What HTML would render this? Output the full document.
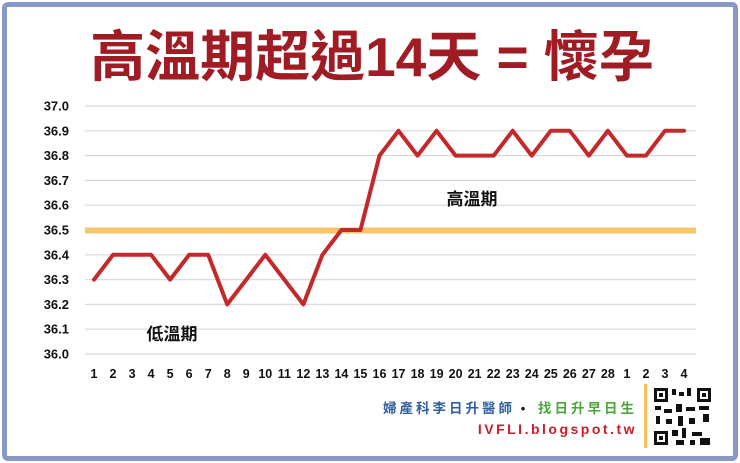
<!DOCTYPE html>
<html><head><meta charset="utf-8"><style>
body{margin:0;width:740px;height:463px;background:#fff;overflow:hidden}
.frame{position:absolute;left:2px;top:2px;width:726px;height:449px;border:5px solid #8a98c8;border-radius:6px;background:#fff}
</style></head><body>
<div class="frame"></div>
<svg width="740" height="463" style="position:absolute;left:0;top:0" font-family="Liberation Sans, Noto Sans CJK TC, sans-serif">
<text x="372" y="76" text-anchor="middle" font-size="55" font-weight="bold" fill="#a01c24" font-family="Liberation Sans, Noto Sans CJK TC, sans-serif">高溫期超過14天 = 懷孕</text>
<g id="grid" stroke="#d9d9d9" stroke-width="1.2"></g>
<g id="ylab" font-size="13" font-weight="bold" fill="#111" text-anchor="end"></g>
<g id="xlab" font-size="12.5" font-weight="bold" fill="#111" text-anchor="middle"></g>
<line x1="85" x2="696" y1="230.5" y2="230.5" stroke="#f7c66a" stroke-width="6"/>
<polyline id="ln" fill="none" stroke="#c3282b" stroke-width="4" stroke-linejoin="round" stroke-linecap="round"/>
<text x="472" y="205" text-anchor="middle" font-size="17" font-weight="bold" fill="#111">高溫期</text>
<text x="172" y="340" text-anchor="middle" font-size="17" font-weight="bold" fill="#111">低溫期</text>
<text x="515" y="413" text-anchor="end" font-size="13.5" font-weight="bold" fill="#2f5fa0" letter-spacing="3">婦產科李日升醫師</text>
<text x="523" y="413" text-anchor="middle" font-size="13" font-weight="bold" fill="#222">•</text>
<text x="637" y="413" text-anchor="end" font-size="13.5" font-weight="bold" fill="#4aa63a" letter-spacing="3">找日升早日生</text>
<text x="637" y="434" text-anchor="end" font-size="14" font-weight="bold" fill="#c81e28" letter-spacing="2.5">IVFLI.blogspot.tw</text>
<rect x="644" y="384" width="3" height="64" fill="#f5c060"/>
<g fill="#111">
<rect x="653" y="387" width="60" height="60" fill="#fff"/>
<rect x="654" y="388" width="14" height="14"/><rect x="657" y="391" width="8" height="8" fill="#fff"/><rect x="659" y="393" width="4" height="4"/>
<rect x="697" y="388" width="14" height="14"/><rect x="700" y="391" width="8" height="8" fill="#fff"/><rect x="702" y="393" width="4" height="4"/>
<rect x="654" y="431" width="14" height="14"/><rect x="657" y="434" width="8" height="8" fill="#fff"/><rect x="659" y="436" width="4" height="4"/>
<rect x="672" y="389" width="4" height="6"/><rect x="679" y="392" width="5" height="4"/><rect x="687" y="388" width="4" height="8"/>
<rect x="655" y="406" width="6" height="4"/><rect x="664" y="409" width="8" height="4"/><rect x="676" y="404" width="6" height="8"/><rect x="686" y="407" width="9" height="4"/><rect x="699" y="406" width="10" height="4"/>
<rect x="656" y="416" width="4" height="8"/><rect x="666" y="419" width="6" height="5"/><rect x="678" y="416" width="5" height="10"/><rect x="689" y="418" width="6" height="6"/><rect x="703" y="414" width="6" height="8"/>
<rect x="672" y="430" width="6" height="6"/><rect x="682" y="428" width="4" height="10"/><rect x="692" y="432" width="10" height="4"/><rect x="700" y="438" width="10" height="7"/><rect x="676" y="440" width="8" height="5"/><rect x="690" y="440" width="5" height="5"/>
</g>
</svg>
<script>
const d=[36.3,36.4,36.4,36.4,36.3,36.4,36.4,36.2,36.3,36.4,36.3,36.2,36.4,36.5,36.5,36.8,36.9,36.8,36.9,36.8,36.8,36.8,36.9,36.8,36.9,36.9,36.8,36.9,36.8,36.8,36.9,36.9];
const lab=[...Array(28)].map((_,i)=>i+1).concat([1,2,3,4]);
const X=i=>94+i*590/31, Y=v=>354-(v-36)*248;
const ns="http://www.w3.org/2000/svg";
const g=document.getElementById('grid'),yl=document.getElementById('ylab'),xl=document.getElementById('xlab');
for(let k=0;k<=10;k++){const y=354-k*24.8;
 const l=document.createElementNS(ns,'line');l.setAttribute('x1',85);l.setAttribute('x2',696);l.setAttribute('y1',y);l.setAttribute('y2',y);g.appendChild(l);
 const t=document.createElementNS(ns,'text');t.setAttribute('x',69);t.setAttribute('y',y+4.5);t.textContent=(36+k/10).toFixed(1);yl.appendChild(t);}
lab.forEach((v,i)=>{const t=document.createElementNS(ns,'text');t.setAttribute('x',X(i));t.setAttribute('y',378);t.textContent=v;xl.appendChild(t);});
document.getElementById('ln').setAttribute('points',d.map((v,i)=>X(i)+','+Y(v)).join(' '));
</script>
</body></html>
